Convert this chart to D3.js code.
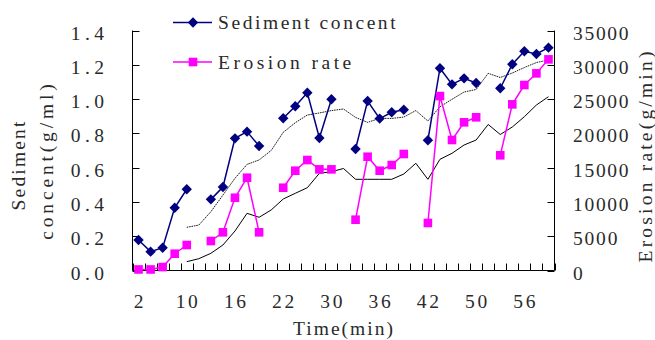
<!DOCTYPE html>
<html><head><meta charset="utf-8">
<script src="https://cdn.jsdelivr.net/npm/d3@7"></script>
<style>
html,body{margin:0;padding:0;background:#fff;}
svg text{font-family:"Liberation Serif","DejaVu Serif",serif;fill:#2a2a2a;}
</style></head>
<body>
<svg id="chart" width="655" height="340"></svg>
<script>
// ---- data ----
const categories = d3.range(35); // category slots along the time axis
const tickLabels = ["2","10","16","22","30","36","42","50","56"]; // one label every 4th category
const sediment = [0.178,0.110,0.133,0.366,0.474,null,0.415,0.487,0.771,0.810,0.726,null,
  0.888,0.958,1.037,0.773,0.999,null,0.709,0.989,0.886,0.923,0.938,null,
  0.760,1.180,1.086,1.121,1.094,null,1.063,1.203,1.279,1.263,1.300];
const erosion = [150,150,500,2450,3720,null,4300,5570,10610,13530,5570,null,
  12070,14550,16110,14750,14750,null,7410,16590,14550,15380,16990,null,
  6930,25440,19030,21610,22340,null,16800,24230,27050,28750,30790];
const sedimentTrend = [null,null,null,null,0.252,0.265,0.343,0.440,0.538,0.619,0.645,0.700,
  0.806,0.862,0.907,0.919,0.933,0.942,0.893,0.864,0.888,0.887,0.895,0.933,
  0.872,0.955,0.999,1.041,1.056,1.150,1.126,1.152,1.184,1.213,1.228];
const erosionTrend = [null,null,null,null,1283,1721,2508,3719,5760,8341,7758,8823,
  10427,11258,12075,14175,14408,14875,13300,13300,13300,13300,14072,15633,
  13300,16216,17091,18302,19031,21300,19833,20926,22428,24135,25345];
const leftTicks = [0,0.2,0.4,0.6,0.8,1.0,1.2,1.4];
const rightTicks = [0,5000,10000,15000,20000,25000,30000,35000];

// ---- layout ----
const svg = d3.select("#chart");
const L = 132.5, R = 554.5, T = 30.5, B = 270.5;
const x = d3.scaleBand().domain(categories).range([L, R]).padding(0);
const yL = d3.scaleLinear().domain([0, 1.4]).range([B, T]);
const yR = d3.scaleLinear().domain([0, 35000]).range([B, T]);
const cx = i => x(i) + x.bandwidth() / 2;

const fs = 19.5, cw = 11.1; // font size, per-character advance (monospaced look)
function txt(g, s) {
  return g.append("text").attr("font-size", fs).attr("textLength", String(s).length * cw)
    .attr("lengthAdjust", "spacing").text(s);
}

// axes lines
const ax = svg.append("g").attr("stroke", "#000").attr("stroke-width", 1);
ax.append("line").attr("x1", L).attr("x2", L).attr("y1", T).attr("y2", B);
ax.append("line").attr("x1", R).attr("x2", R).attr("y1", T).attr("y2", B);
ax.append("line").attr("x1", L).attr("x2", R).attr("y1", B).attr("y2", B);
leftTicks.forEach(t => ax.append("line").attr("x1", L).attr("x2", L + 7).attr("y1", Math.round(yL(t)) + 0.5).attr("y2", Math.round(yL(t)) + 0.5));
rightTicks.forEach(t => ax.append("line").attr("x1", R - 7).attr("x2", R).attr("y1", Math.round(yR(t)) + 0.5).attr("y2", Math.round(yR(t)) + 0.5));
categories.concat([categories.length]).forEach(i => {
  const px = Math.round(i < categories.length ? x(i) : R) + 0.5;
  ax.append("line").attr("x1", px).attr("x2", px).attr("y1", B).attr("y2", B - 7);
});

// tick labels
leftTicks.forEach(t => txt(svg, d3.format(".1f")(t)).attr("x", 104).attr("y", yL(t) + 9).attr("text-anchor", "end"));
rightTicks.forEach(t => txt(svg, String(t)).attr("x", 573).attr("y", yR(t) + 9).attr("text-anchor", "start"));
tickLabels.forEach((lab, k) => txt(svg, lab).attr("x", cx(k * 4)).attr("y", 308).attr("text-anchor", "middle"));

// axis titles
txt(svg, "Time(min)").attr("x", (L + R) / 2 - 0.5).attr("y", 335).attr("text-anchor", "middle");
txt(svg, "Sediment").attr("transform", "translate(25,166) rotate(-90)").attr("text-anchor", "middle");
txt(svg, "concent(g/ml)").attr("transform", "translate(53,162) rotate(-90)").attr("text-anchor", "middle")
  .attr("textLength", 14 * cw);
txt(svg, "Erosion rate(g/min)").attr("transform", "translate(652,157) rotate(-90)").attr("text-anchor", "middle");

// trend lines
const lineL = d3.line().defined(d => d.v != null).x(d => cx(d.i)).y(d => yL(d.v));
const lineR = d3.line().defined(d => d.v != null).x(d => cx(d.i)).y(d => yR(d.v));
const toPts = arr => arr.map((v, i) => ({ i, v }));
svg.append("path").attr("d", lineL(toPts(sedimentTrend).filter(d => d.v != null)))
  .attr("fill", "none").attr("stroke", "#000").attr("stroke-width", 0.9).attr("stroke-dasharray", "1.6,0.8");
svg.append("path").attr("d", lineR(toPts(erosionTrend).filter(d => d.v != null)))
  .attr("fill", "none").attr("stroke", "#000").attr("stroke-width", 1);

// series
const navy = "#000080", mag = "#ff00ff";
svg.append("path").attr("d", lineL(toPts(sediment))).attr("fill", "none").attr("stroke", navy).attr("stroke-width", 1.5);
svg.append("path").attr("d", lineR(toPts(erosion))).attr("fill", "none").attr("stroke", mag).attr("stroke-width", 1.5);
const diamond = (px, py, r) => `M${px},${py - r}L${px + r},${py}L${px},${py + r}L${px - r},${py}Z`;
toPts(sediment).filter(d => d.v != null).forEach(d =>
  svg.append("path").attr("d", diamond(cx(d.i), yL(d.v), 5.2)).attr("fill", navy));
toPts(erosion).filter(d => d.v != null).forEach(d =>
  svg.append("rect").attr("x", cx(d.i) - 4.3).attr("y", yR(d.v) - 4.3).attr("width", 8.6).attr("height", 8.6).attr("fill", mag));

// legend
const lg = [{ name: "Sediment concent", c: navy, y: 22.5, m: "d" }, { name: "Erosion rate", c: mag, y: 62, m: "s" }];
lg.forEach(e => {
  svg.append("line").attr("x1", 173).attr("x2", 212).attr("y1", e.y).attr("y2", e.y).attr("stroke", e.c).attr("stroke-width", 1.5);
  if (e.m === "d") svg.append("path").attr("d", diamond(193, e.y, 5.2)).attr("fill", e.c);
  else svg.append("rect").attr("x", 193 - 4.3).attr("y", e.y - 4.3).attr("width", 8.6).attr("height", 8.6).attr("fill", e.c);
  txt(svg, e.name).attr("x", 218).attr("y", e.y + 6.8);
});
</script>
</body></html>
